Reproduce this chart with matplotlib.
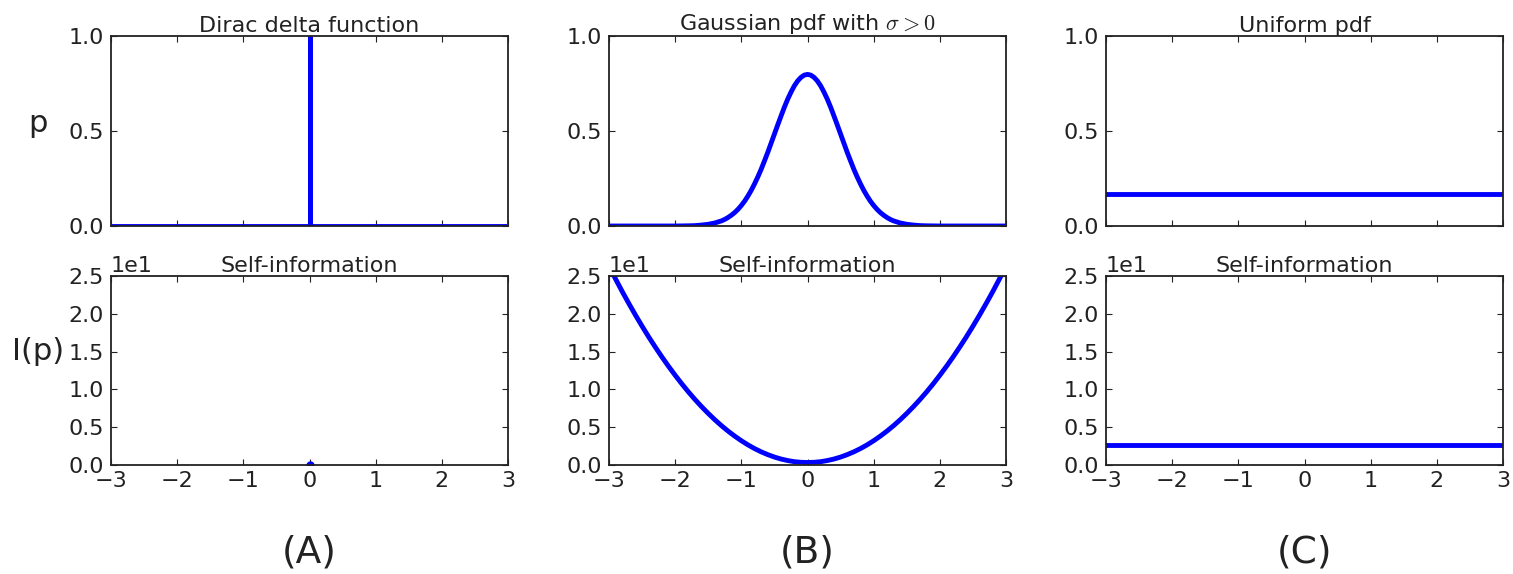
import numpy as np
import matplotlib
matplotlib.use("Agg")
import matplotlib.pyplot as plt
from matplotlib.ticker import ScalarFormatter

# --- data ---
# x positions for the gaussian pdf (right half, mirrored)
gauss_x_half = [0.0, 0.05, 0.1, 0.15, 0.2, 0.25, 0.3, 0.35, 0.4, 0.45, 0.5,
                0.55, 0.6, 0.65, 0.7, 0.75, 0.8, 0.85, 0.9, 0.95, 1.0,
                1.05, 1.1, 1.15, 1.2, 1.25, 1.3, 1.4, 1.5, 1.6, 1.7,
                1.8, 1.9, 2.0, 2.5, 3.0]
gauss_half = [0.798, 0.794, 0.782, 0.763, 0.737, 0.704, 0.667, 0.625, 0.579, 0.532, 0.484,
              0.436, 0.388, 0.343, 0.299, 0.259, 0.222, 0.188, 0.158, 0.131, 0.108,
              0.088, 0.071, 0.057, 0.045, 0.035, 0.027, 0.016, 0.009, 0.005, 0.002,
              0.001, 0.0005, 0.0, 0.0, 0.0]

# self-information of the gaussian, bits (right half, mirrored)
info_x_half = [0.0, 0.1, 0.2, 0.3, 0.4, 0.5, 0.6, 0.7, 0.8, 0.9, 1.0,
               1.1, 1.2, 1.3, 1.4, 1.5, 1.6, 1.7, 1.8, 1.9, 2.0,
               2.1, 2.2, 2.3, 2.4, 2.5, 2.6, 2.7, 2.8, 2.9, 3.0]
gauss_info_half = [0.33, 0.36, 0.44, 0.59, 0.79, 1.05, 1.37, 1.74, 2.17, 2.66,
                   3.21, 3.82, 4.48, 5.20, 5.98, 6.82, 7.71, 8.66, 9.67, 10.74,
                   11.87, 13.05, 14.29, 15.59, 16.94, 18.36, 19.83, 21.36, 22.94, 24.59, 26.29]

gauss_x = [-v for v in gauss_x_half[::-1]] + gauss_x_half[1:]
gauss_p = gauss_half[::-1] + gauss_half[1:]
info_x = [-v for v in info_x_half[::-1]] + info_x_half[1:]
gauss_info = gauss_info_half[::-1] + gauss_info_half[1:]

dirac_x = [-3, 0, 0, 0, 3]
dirac_p = [0, 0, 1, 0, 0]
dirac_info_x = [0]
dirac_info = [0]

unif_x = [-3, 3]
unif_p = [0.1667, 0.1667]
unif_info = [2.585, 2.585]

titles = ["Dirac delta function", r"Gaussian pdf with $\sigma > 0$", "Uniform pdf"]
panel_labels = ["(A)", "(B)", "(C)"]

plt.rcParams['font.size'] = 16
plt.rcParams['mathtext.fontset'] = 'cm'
plt.rcParams['xtick.direction'] = 'in'
plt.rcParams['ytick.direction'] = 'in'
plt.rcParams['xtick.top'] = True
plt.rcParams['ytick.right'] = True
plt.rcParams['xtick.major.size'] = 4
plt.rcParams['ytick.major.size'] = 4
plt.rcParams['xtick.major.pad'] = 4
plt.rcParams['ytick.major.pad'] = 5
plt.rcParams['xtick.color'] = '#222222'
plt.rcParams['ytick.color'] = '#222222'

W, H = 1513, 574
fig = plt.figure(figsize=(W / 100, H / 100), dpi=100)

lefts = [111, 609, 1106]
width = 397
top_row = (36, 226)
bot_row = (276, 465)

def box(left, rows):
    t, b = rows
    return [left / W, 1 - b / H, width / W, (b - t) / H]

blue = '#0000ff'
lw = 3.5

for i, left in enumerate(lefts):
    ax1 = fig.add_axes(box(left, top_row))
    ax2 = fig.add_axes(box(left, bot_row))

    if i == 0:
        ax1.plot(dirac_x, dirac_p, color=blue, lw=lw, solid_joinstyle='miter')
        ax2.plot(dirac_info_x, dirac_info, 'o', color=blue, ms=5, mec=blue)
    elif i == 1:
        ax1.plot(gauss_x, gauss_p, color=blue, lw=lw)
        ax2.plot(info_x, gauss_info, color=blue, lw=lw)
    else:
        ax1.plot(unif_x, unif_p, color=blue, lw=lw)
        ax2.plot(unif_x, unif_info, color=blue, lw=lw)

    ax1.set_xlim(-3, 3)
    ax1.set_ylim(0, 1)
    ax1.set_yticks([0, 0.5, 1.0])
    ax1.set_xticks([-3, -2, -1, 0, 1, 2, 3])
    ax1.set_yticklabels(["0.0", "0.5", "1.0"])
    ax1.tick_params(labelbottom=False)
    ax1.set_title(titles[i], fontsize=16, pad=3, color='#222222')

    ax2.set_xlim(-3, 3)
    ax2.set_ylim(0, 25)
    ax2.set_xticks([-3, -2, -1, 0, 1, 2, 3])
    ax2.set_yticks([0, 5, 10, 15, 20, 25])
    fmt = ScalarFormatter(useMathText=False)
    fmt.set_powerlimits((0, 0))
    ax2.yaxis.set_major_formatter(fmt)
    ax2.yaxis.get_offset_text().set_fontsize(16)
    ax2.set_title("Self-information", fontsize=16, pad=3, color='#222222')

    for ax in (ax1, ax2):
        for s in ax.spines.values():
            s.set_linewidth(1.3)
            s.set_color('#222222')

    fig.text((left + width / 2) / W, 1 - 552 / H, panel_labels[i],
             ha='center', va='center', fontsize=27, color='#222222')

fig.text(38 / W, 1 - 124 / H, "p", ha='center', va='center', fontsize=22, color='#222222')
fig.text(38 / W, 1 - 352 / H, "I(p)", ha='center', va='center', fontsize=22, color='#222222')

fig.savefig("out.png", dpi=100)
